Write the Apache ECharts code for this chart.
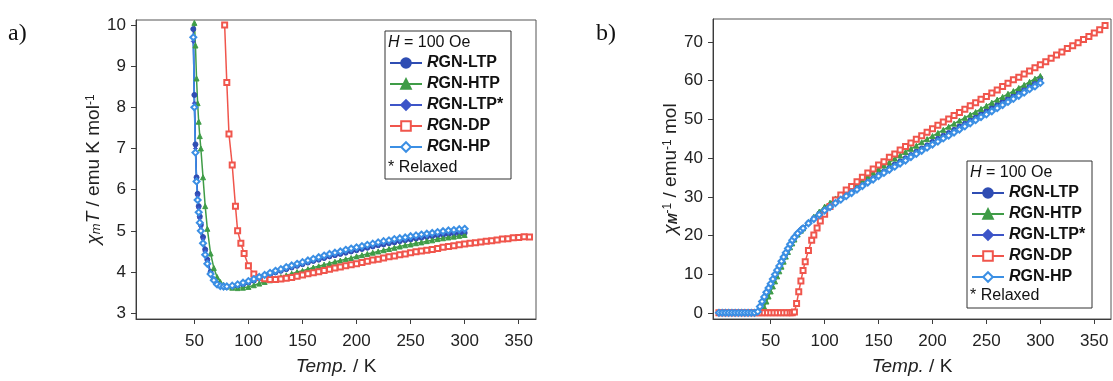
<!DOCTYPE html>
<html><head><meta charset="utf-8">
<script src="https://cdn.jsdelivr.net/npm/echarts@6.0.0/dist/echarts.min.js"></script>
<style>html,body{margin:0;padding:0;background:#fff}#c{width:1113px;height:381px}</style>
</head><body><div id="c"></div>
<script>
// ---------- tick labels ----------
const xTicks = [50, 100, 150, 200, 250, 300, 350];
const yTicksA = [3, 4, 5, 6, 7, 8, 9, 10];
const yTicksB = [0, 10, 20, 30, 40, 50, 60, 70];
const seriesNames = ['RGN-LTP', 'RGN-HTP', 'RGN-LTP*', 'RGN-DP', 'RGN-HP'];

// ---------- panel a: chi_m T vs T ----------
const tA = [49,50,51,52,53,54,55,56,58,60,62,65,68,71,74,77,
  80,85,90,95,100,105,110,115,120,125,130,135,140,145,150,155,160,165,170,175,180,185,190,195,200,
  205,210,215,220,225,230,235,240,245,250,255,260,265,270,275,280,285,290,295,300];
const aLTP = [9.9,8.3,7.1,6.3,5.9,5.6,5.35,5.15,4.85,4.55,4.3,4.0,3.82,3.72,3.67,3.65,
  3.64,3.65,3.67,3.7,3.74,3.79,3.84,3.89,3.94,3.99,4.03,4.07,4.11,4.15,4.19,4.23,4.27,4.30,4.34,4.38,4.41,4.44,4.47,4.50,4.53,
  4.56,4.59,4.62,4.65,4.67,4.70,4.72,4.75,4.77,4.79,4.81,4.83,4.85,4.87,4.89,4.90,4.92,4.93,4.94,4.95];
const aHTP = [null,10.05,9.5,8.7,8.1,7.65,7.3,7.0,6.3,5.6,5.05,4.45,4.1,3.88,3.76,3.69,
  3.65,3.62,3.61,3.62,3.64,3.68,3.72,3.76,3.8,3.84,3.88,3.92,3.96,4.0,4.03,4.07,4.11,4.14,4.18,4.21,4.25,4.28,4.31,4.34,4.38,
  4.41,4.44,4.47,4.5,4.53,4.56,4.59,4.62,4.65,4.67,4.7,4.72,4.75,4.77,4.8,4.82,4.84,4.86,4.88,4.9];
const aLTPs = [9.6,8.1,7.0,6.25,5.85,5.55,5.3,5.1,4.8,4.5,4.27,3.98,3.8,3.71,3.66,3.64,
  3.64,3.65,3.68,3.71,3.75,3.8,3.85,3.9,3.95,4.0,4.04,4.09,4.13,4.17,4.21,4.25,4.29,4.33,4.36,4.4,4.43,4.46,4.5,4.53,4.56,
  4.59,4.62,4.65,4.67,4.7,4.72,4.75,4.77,4.79,4.82,4.84,4.86,4.88,4.9,4.91,4.93,4.94,4.96,4.97,4.98];
const aHP = [9.7,8.0,6.9,6.2,5.75,5.45,5.2,5.0,4.7,4.42,4.2,3.95,3.8,3.7,3.66,3.65,
  3.65,3.67,3.7,3.74,3.78,3.83,3.88,3.93,3.98,4.03,4.07,4.12,4.16,4.2,4.24,4.28,4.32,4.36,4.4,4.44,4.47,4.5,4.54,4.57,4.6,
  4.63,4.66,4.69,4.72,4.75,4.77,4.8,4.82,4.84,4.87,4.89,4.91,4.93,4.95,4.97,4.99,5.01,5.02,5.04,5.05];
const tAr = [78,80,82,85,88,90,93,96,100,105,110,115,120,
  125,130,135,140,145,150,155,160,165,170,175,180,185,190,195,200,205,210,215,220,225,230,235,240,
  245,250,255,260,265,270,275,280,285,290,295,300,305,310,315,320,325,330,335,340,345,350,355,360];
const aDP = [10.0,8.6,7.35,6.6,5.6,5.0,4.7,4.45,4.15,3.95,3.87,3.84,3.82,
  3.82,3.83,3.85,3.87,3.9,3.93,3.96,3.98,4.01,4.04,4.07,4.1,4.12,4.15,4.18,4.2,4.23,4.26,4.29,4.31,4.34,4.37,4.39,4.42,
  4.44,4.47,4.49,4.51,4.53,4.55,4.57,4.6,4.62,4.64,4.66,4.68,4.7,4.71,4.73,4.75,4.76,4.78,4.8,4.81,4.83,4.84,4.86,4.85];

// ---------- panel b: 1/chi vs T ----------
const tB = [2,5,8,11,14,17,20,23,26,29,32,35,
  38,40,42,44,46,48,50,52,54,56,58,60,62,64,66,68,70,72,75,78,
  80,85,90,95,100,105,110,115,120,125,130,135,140,145,150,155,160,165,170,175,180,185,190,195,200,
  205,210,215,220,225,230,235,240,245,250,255,260,265,270,275,280,285,290,295,300];
const bLTP = [0.1,0.1,0.1,0.1,0.1,0.1,0.1,0.1,0.1,0.1,0.1,0.1,
  0.3,1.5,2.8,4.0,5.2,6.3,7.4,8.6,9.8,10.9,12.0,13.2,14.3,15.4,16.5,17.6,18.6,19.5,20.6,21.5,
  22.0,23.3,24.5,25.7,26.7,27.7,28.6,29.6,30.4,31.3,32.3,33.2,34.1,34.9,35.8,36.6,37.5,38.4,39.2,40.0,40.8,41.7,42.5,43.3,44.2,
  45.0,45.8,46.5,47.3,48.2,48.9,49.8,50.5,51.4,52.2,53.0,53.8,54.6,55.4,56.2,57.1,57.9,58.8,59.7,60.6];
const bHTP = [0.1,0.1,0.1,0.1,0.1,0.1,0.1,0.1,0.1,0.1,0.1,0.1,
  0.1,0.1,0.3,1.6,3.0,4.3,5.6,6.9,8.2,9.5,10.8,12.0,13.3,14.6,15.8,17.0,18.0,19.0,20.3,21.3,
  21.9,23.5,24.9,26.2,27.5,28.5,29.6,30.6,31.6,32.6,33.5,34.4,35.4,36.3,37.2,38.1,38.9,39.9,40.7,41.6,42.4,43.2,44.1,44.9,45.7,
  46.5,47.3,48.1,48.9,49.7,50.4,51.2,51.9,52.7,53.5,54.3,55.1,55.8,56.6,57.3,58.1,58.9,59.7,60.5,61.2];
const bLTPs = [0.1,0.1,0.1,0.1,0.1,0.1,0.1,0.1,0.1,0.1,0.1,0.1,
  0.3,1.6,2.9,4.1,5.3,6.4,7.5,8.7,9.9,11.0,12.1,13.3,14.4,15.5,16.6,17.7,18.7,19.6,20.6,21.5,
  22.0,23.3,24.5,25.6,26.7,27.6,28.6,29.5,30.4,31.3,32.2,33.0,33.9,34.8,35.6,36.5,37.3,38.1,39.0,39.8,40.6,41.5,42.2,43.0,43.9,
  44.7,45.5,46.2,47.1,47.9,48.7,49.5,50.3,51.1,51.9,52.7,53.5,54.3,55.1,56.0,56.8,57.7,58.5,59.4,60.2];
const bHP = [0.1,0.1,0.1,0.1,0.1,0.1,0.1,0.1,0.1,0.1,0.1,0.1,
  0.4,1.7,3.0,4.2,5.4,6.5,7.6,8.8,10.0,11.1,12.2,13.4,14.5,15.6,16.7,17.8,18.8,19.6,20.6,21.4,
  21.9,23.2,24.3,25.4,26.5,27.4,28.4,29.3,30.2,31.0,31.9,32.8,33.7,34.5,35.4,36.2,37.0,37.8,38.6,39.4,40.3,41.1,41.9,42.7,43.5,
  44.3,45.1,45.8,46.6,47.4,48.2,49.0,49.8,50.6,51.3,52.1,52.9,53.7,54.5,55.3,56.1,56.9,57.8,58.5,59.4];
const tBr = [2,5,8,11,14,17,20,23,26,29,32,35,38,41,44,47,50,53,56,59,62,65,68,
  70,72,74,76,78,80,82,85,88,90,93,96,100,105,110,115,120,
  125,130,135,140,145,150,155,160,165,170,175,180,185,190,195,200,205,210,215,220,225,230,235,240,
  245,250,255,260,265,270,275,280,285,290,295,300,305,310,315,320,325,330,335,340,345,350,355,360];
const bDP = [0.1,0.1,0.1,0.1,0.1,0.1,0.1,0.1,0.1,0.1,0.1,0.1,0.1,0.1,0.1,0.1,0.1,0.1,0.1,0.1,0.1,0.1,0.1,
  0.1,0.3,2.5,5.5,8.3,11.0,13.3,16.2,18.8,20.2,22.0,23.8,25.5,27.5,29.2,30.5,31.8,
  32.7,33.9,35.1,36.2,37.2,38.2,39.1,40.2,41.1,42.1,43.0,43.9,44.9,45.8,46.7,47.6,48.5,49.3,50.1,51.0,51.8,52.6,53.5,54.3,
  55.2,55.9,56.8,57.6,58.5,59.3,60.2,60.9,61.7,62.5,63.3,64.1,64.9,65.8,66.6,67.4,68.3,69.0,69.8,70.6,71.4,72.3,73.1,74.2];

// ---------- styling ----------
const FONT = '"Liberation Sans", Arial, sans-serif';
const AX = '#3c3c3c';
const C = { LTP: '#2f4db3', HTP: '#3f9c47', LTPs: '#3d55c8', DP: '#f0554c', HP: '#3b8fe4' };

function zip(t, v) { return t.map((x, i) => [x, v[i]]); }

function ser(name, gi, t, v, symbol, size, color, bw) {
  return {
    type: 'line', name: name, xAxisIndex: gi, yAxisIndex: gi,
    data: zip(t, v), symbol: symbol, symbolSize: size, showSymbol: true,
    clip: true, animation: false, connectNulls: false,
    lineStyle: { color: color, width: 1.5 },
    itemStyle: { color: color, borderColor: color, borderWidth: bw || 1 },
    emphasis: { disabled: true }
  };
}

const axisNameRich = {
  g: { fontFamily: FONT, fontSize: 19, fontStyle: 'italic', color: '#222' },
  t: { fontFamily: FONT, fontSize: 19, fontStyle: 'italic', color: '#222' },
  n: { fontFamily: FONT, fontSize: 19, color: '#222' },
  s: { fontFamily: FONT, fontSize: 13, fontStyle: 'italic', color: '#222', verticalAlign: 'bottom', lineHeight: 13 },
  sb: { fontFamily: FONT, fontSize: 13, fontStyle: 'italic', fontWeight: 'bold', color: '#222', verticalAlign: 'bottom', lineHeight: 13 },
  p: { fontFamily: FONT, fontSize: 12, color: '#222', verticalAlign: 'top', lineHeight: 12 }
};

function xAx(gi, min, max) {
  return {
    type: 'value', gridIndex: gi, min: min, max: max,
    axisLine: { show: true, onZero: false, lineStyle: { color: AX, width: 1 } },
    axisTick: { show: true, inside: false, length: 5, customValues: xTicks, lineStyle: { color: AX } },
    axisLabel: { customValues: xTicks, fontSize: 17, color: '#222', margin: 14, fontFamily: FONT },
    splitLine: { show: false },
    name: '{t|Temp.}{n| / K}', nameLocation: 'middle', nameGap: 38,
    nameTextStyle: { rich: axisNameRich }
  };
}
function yAx(gi, min, max, ticks, name, gap) {
  return {
    type: 'value', gridIndex: gi, min: min, max: max,
    axisLine: { show: true, onZero: false, lineStyle: { color: AX, width: 1 } },
    axisTick: { show: true, inside: false, length: 5, customValues: ticks, lineStyle: { color: AX } },
    axisLabel: { customValues: ticks, fontSize: 17, color: '#222', margin: 10, fontFamily: FONT },
    splitLine: { show: false },
    name: name, nameLocation: 'middle', nameGap: gap, nameRotate: 90,
    nameTextStyle: { rich: axisNameRich }
  };
}

const legendRich = {
  i: { fontFamily: FONT, fontSize: 16, fontStyle: 'italic', fontWeight: 'bold', color: '#111' },
  b: { fontFamily: FONT, fontSize: 16, fontWeight: 'bold', color: '#111' }
};
function leg(left, top) {
  return {
    left: left, top: top, orient: 'vertical', padding: 0,
    itemWidth: 32, itemHeight: 12, itemGap: 5, selectedMode: false,
    data: seriesNames,
    textStyle: { fontSize: 16, lineHeight: 16, fontFamily: FONT, color: '#111', rich: legendRich },
    formatter: function (n) { return '{i|R}{b|' + n.slice(1) + '}'; }
  };
}
function boxTexts(x, yTop, yBot) {
  return [
    { type: 'text', x: x, y: yTop, style: { text: '{i|H}{n| = 100 Oe}', verticalAlign: 'middle',
      rich: { i: { fontFamily: FONT, fontSize: 16, fontStyle: 'italic', fill: '#111' }, n: { fontFamily: FONT, fontSize: 16, fill: '#111' } } } },
    { type: 'text', x: x, y: yBot, style: { text: '* Relaxed', verticalAlign: 'middle', font: '16px ' + FONT, fill: '#111' } }
  ];
}

const chart = echarts.init(document.getElementById('c'), null, { renderer: 'canvas' });
chart.setOption({
  backgroundColor: '#fff',
  animation: false,
  grid: [
    { left: 136, top: 20, width: 400, height: 303, show: true, borderColor: '#555', borderWidth: 1, backgroundColor: 'transparent' },
    { left: 713, top: 19, width: 398, height: 304, show: true, borderColor: '#555', borderWidth: 1, backgroundColor: 'transparent' }
  ],
  xAxis: [xAx(0, -4, 366), xAx(1, -3.5, 365.5)],
  yAxis: [
    yAx(0, 2.86, 10.12, yTicksA, '{g|χ}{s|m}{t|T}{n| / emu K mol}{p|-1}', 30),
    yAx(1, -1.5, 75.9, yTicksB, '{g|χ}{sb|M}{p|-1}{n| / emu}{p|-1}{n| mol}', 28)
  ],
  legend: [leg(389, 55), leg(971, 185)],
  graphic: [
    { type: 'text', x: 8, y: 22, style: { text: 'a)', font: '24px "Liberation Serif", serif', fill: '#111' } },
    { type: 'text', x: 596, y: 22, style: { text: 'b)', font: '24px "Liberation Serif", serif', fill: '#111' } },
    { type: 'rect', shape: { x: 385, y: 31, width: 126, height: 148 }, style: { fill: '#fff', stroke: '#333', lineWidth: 1 }, z: 0 },
    { type: 'rect', shape: { x: 967, y: 161, width: 125, height: 147 }, style: { fill: '#fff', stroke: '#333', lineWidth: 1 }, z: 0 }
  ].concat(boxTexts(388, 43, 168)).concat(boxTexts(970, 173, 296)),
  series: [
    ser('RGN-LTP', 0, tA, aLTP, 'circle', 5, C.LTP),
    ser('RGN-HTP', 0, tA, aHTP, 'triangle', 5, C.HTP),
    ser('RGN-LTP*', 0, tA, aLTPs, 'diamond', 4, C.LTPs),
    ser('RGN-DP', 0, tAr, aDP, 'emptyRect', 5, C.DP),
    ser('RGN-HP', 0, tA, aHP, 'emptyDiamond', 6, C.HP),
    ser('RGN-LTP', 1, tB, bLTP, 'circle', 5, C.LTP),
    ser('RGN-HTP', 1, tB, bHTP, 'triangle', 5, C.HTP),
    ser('RGN-LTP*', 1, tB, bLTPs, 'diamond', 4, C.LTPs),
    ser('RGN-DP', 1, tBr, bDP, 'emptyRect', 5, C.DP),
    ser('RGN-HP', 1, tB, bHP, 'emptyDiamond', 6, C.HP)
  ]
});
</script>
</body></html>
